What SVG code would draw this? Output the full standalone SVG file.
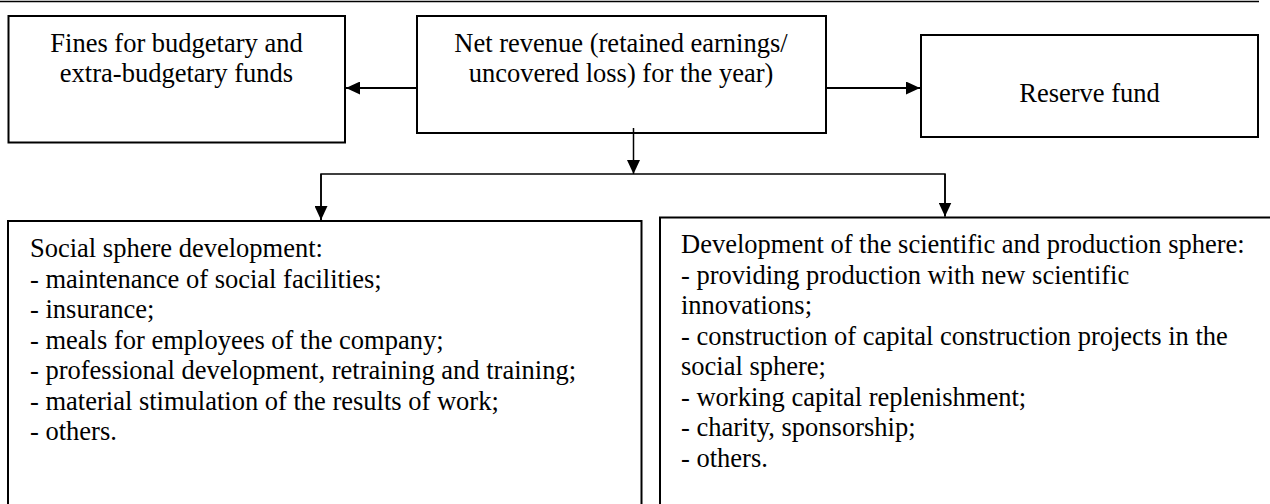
<svg xmlns="http://www.w3.org/2000/svg" width="1270" height="504" viewBox="0 0 1270 504">
<style>
.box{fill:#fff;stroke:#000;stroke-width:2}
.t{font-family:"Liberation Serif","Times New Roman",serif;font-size:26.5px;fill:#000}
.c{text-anchor:middle}
.ln{stroke:#000;stroke-width:2;fill:none}
.thin{stroke:#000;stroke-width:1.5;fill:none}
</style>
<defs>
<marker id="ah" markerUnits="userSpaceOnUse" markerWidth="14" markerHeight="13" refX="14" refY="6.5" orient="auto">
<path d="M0,0 L14,6.5 L0,13 z" fill="#000"/>
</marker>
</defs>
<line x1="0" y1="1.5" x2="1259" y2="1.5" stroke="#000" stroke-width="1.5"/>
<g id="fines">
<rect class="box" x="8.5" y="16" width="336.5" height="126.5"/>
<text class="t c" x="176.5" y="52">Fines for budgetary and</text>
<text class="t c" x="176.5" y="82">extra-budgetary funds</text>
</g>
<g id="net">
<rect class="box" x="417" y="16" width="409" height="117"/>
<text class="t c" x="621" y="52">Net revenue (retained earnings/</text>
<text class="t c" x="621" y="82">uncovered loss) for the year)</text>
</g>
<g id="reserve">
<rect class="box" x="921" y="35" width="337" height="102"/>
<text class="t c" x="1089.5" y="101.5">Reserve fund</text>
</g>
<g id="social">
<rect class="box" x="8" y="221" width="633.5" height="300"/>
<text class="t" x="30" y="257">Social sphere development:<tspan x="30" dy="30.5">- maintenance of social facilities;</tspan><tspan x="30" dy="30.5">- insurance;</tspan><tspan x="30" dy="30.5">- meals for employees of the company;</tspan><tspan x="30" dy="30.5">- professional development, retraining and training;</tspan><tspan x="30" dy="30.5">- material stimulation of the results of work;</tspan><tspan x="30" dy="30.5">- others.</tspan></text>
</g>
<g id="scientific">
<rect class="box" x="660" y="217.5" width="615" height="300"/>
<text class="t" x="681" y="253">Development of the scientific and production sphere:<tspan x="681" dy="30.5">- providing production with new scientific</tspan><tspan x="681" dy="30.5">innovations;</tspan><tspan x="681" dy="30.5">- construction of capital construction projects in the</tspan><tspan x="681" dy="30.5">social sphere;</tspan><tspan x="681" dy="30.5">- working capital replenishment;</tspan><tspan x="681" dy="30.5">- charity, sponsorship;</tspan><tspan x="681" dy="30.5">- others.</tspan></text>
</g>
<g id="connectors">
<line class="ln" x1="417" y1="88" x2="346" y2="88" marker-end="url(#ah)"/>
<line class="ln" x1="826" y1="88" x2="920" y2="88" marker-end="url(#ah)"/>
<line class="thin" x1="633.5" y1="128" x2="633.5" y2="174" marker-end="url(#ah)"/>
<polyline class="thin" points="321,220 321,174 945,174 945,216.5"/>
<line class="thin" x1="321" y1="174" x2="321" y2="220" marker-end="url(#ah)"/>
<line class="thin" x1="945" y1="174" x2="945" y2="216.5" marker-end="url(#ah)"/>
</g>
</svg>
